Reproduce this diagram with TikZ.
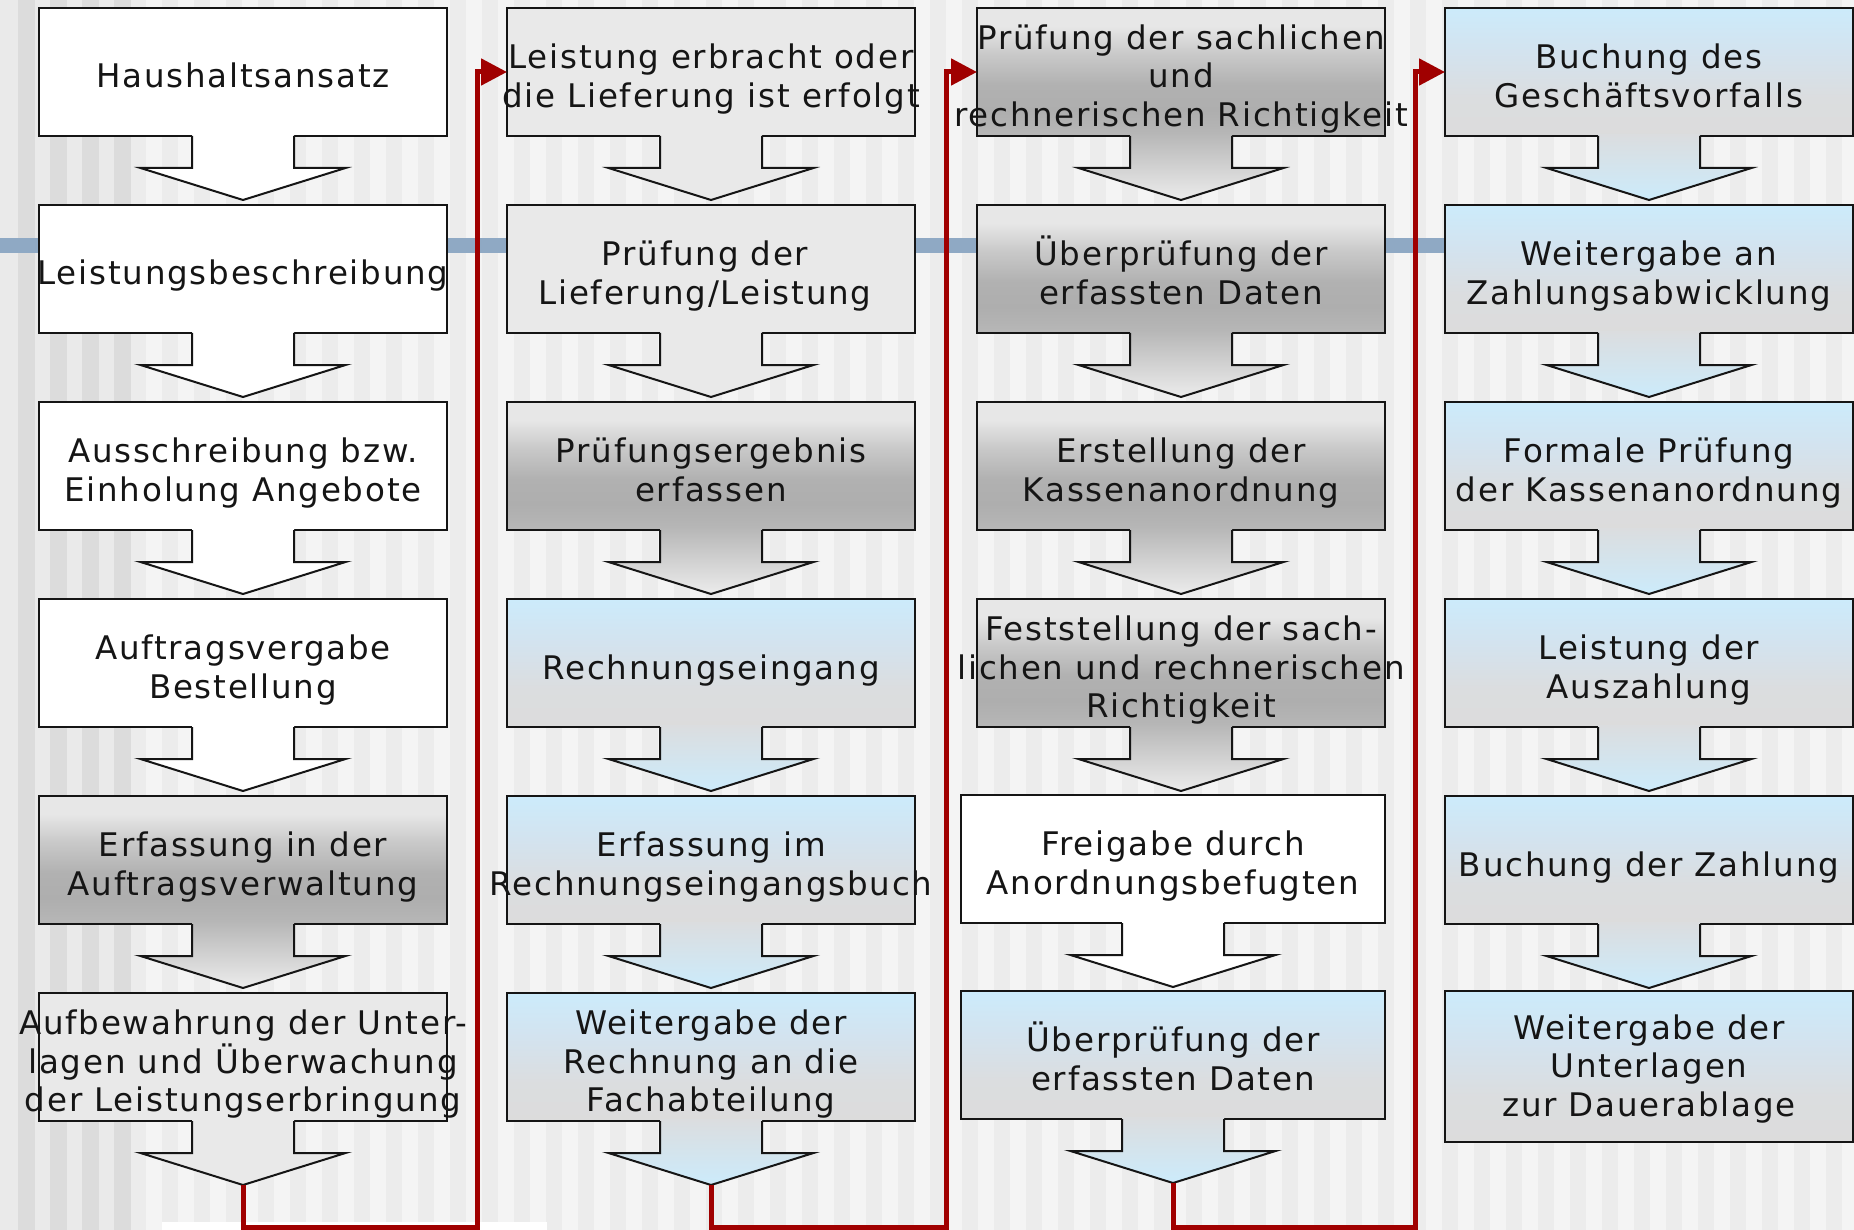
\documentclass[tikz,border=0pt]{standalone}
\usepackage{fontspec}
\setmainfont{DejaVu Sans}[LetterSpace=5.5]
\usetikzlibrary{arrows.meta}
\definecolor{redl}{HTML}{A00000}
\definecolor{barblue}{HTML}{8FA9C4}
\definecolor{lgray}{HTML}{E9E9E9}
\definecolor{txtc}{HTML}{151515}
\definecolor{bgbase}{HTML}{ECECEC}
\definecolor{bglight}{HTML}{F4F4F4}
\definecolor{bgleft}{HTML}{EAEAEA}
\definecolor{bgdark}{HTML}{DCDCDC}
\definecolor{mA}{HTML}{B7B7B7}
\definecolor{mB}{HTML}{AEAEAE}
\definecolor{mC}{HTML}{B1B1B1}
\definecolor{mD}{HTML}{C9C9C9}
\definecolor{mE}{HTML}{E7E7E7}
\definecolor{bA}{HTML}{DCDCDC}
\definecolor{bB}{HTML}{DBDDDF}
\definecolor{bC}{HTML}{D3E3EF}
\definecolor{bD}{HTML}{CCEBFB}
\pgfdeclareverticalshading{metalbox}{100bp}{color(0bp)=(mA); color(25bp)=(mA); color(35bp)=(mB); color(45bp)=(mC); color(57bp)=(mD); color(68bp)=(mE); color(75bp)=(mE); color(100bp)=(mE)}
\pgfdeclareverticalshading{bluebox}{100bp}{color(0bp)=(bA); color(25bp)=(bA); color(40bp)=(bB); color(58bp)=(bC); color(75bp)=(bD); color(100bp)=(bD)}
\newcommand\ls{\rule[-8pt]{0pt}{38pt}}
\newcommand\flowarr[2]{%
  \path[#2] ([shift={(-51,-2)}]#1.south) -- ([shift={(-51,32)}]#1.south) -- ([shift={(-102.5,32)}]#1.south) -- ([shift={(0,64)}]#1.south) -- ([shift={(102.5,32)}]#1.south) -- ([shift={(51,32)}]#1.south) -- ([shift={(51,-2)}]#1.south) -- cycle;
  \draw[arrline] ([shift={(-51,0)}]#1.south) -- ([shift={(-51,32)}]#1.south) -- ([shift={(-102.5,32)}]#1.south) -- ([shift={(0,64)}]#1.south) -- ([shift={(102.5,32)}]#1.south) -- ([shift={(51,32)}]#1.south) -- ([shift={(51,0)}]#1.south);
}
\tikzset{
  box/.style={draw=txtc, line width=2pt, inner sep=0pt, outer sep=0pt, minimum width=408pt, minimum height=128pt},
  wbox/.style={box, fill=white},
  gbox/.style={box, fill=lgray},
  mbox/.style={box, shade, shading=metalbox},
  bbox/.style={box, shade, shading=bluebox},
  warr/.style={fill=white},
  garr/.style={fill=lgray},
  marr/.style={top color=mA, bottom color=mE!80!white},
  barr/.style={top color=bB, bottom color=bD},
  arrline/.style={draw=txtc, line width=2pt, line join=miter},
  txt/.style={align=center, inner sep=0pt, text=txtc, font=\fontsize{32.5}{38.5}\selectfont},
  redline/.style={draw=redl, line width=5pt, line join=miter, -{Triangle[length=26pt,width=26pt]}},
}
\begin{document}
\begin{tikzpicture}[x=1pt,y=-1pt]
\useasboundingbox (0,0) rectangle (1854,1230);
% background
\fill[bgbase] (0,0) rectangle (1854,1230);
\fill[bgleft] (0,0) rectangle (130,1230);
\foreach \x in {18,50,82,114} \fill[bgdark] (\x,0) rectangle (\x+17,1230);
\foreach \x in {146,178,...,1850} \fill[bglight] (\x,0) rectangle (\x+16,1230);
\fill[barblue] (0,238) rectangle (1854,253);
% boxes column 1
\node[wbox] (b11) at (243,72) {};
\node[wbox] (b12) at (243,269) {};
\node[wbox] (b13) at (243,466) {};
\node[wbox] (b14) at (243,663) {};
\node[mbox] (b15) at (243,860) {};
\node[gbox] (b16) at (243,1057) {};
% column 2
\node[gbox] (b21) at (711,72) {};
\node[gbox] (b22) at (711,269) {};
\node[mbox] (b23) at (711,466) {};
\node[bbox] (b24) at (711,663) {};
\node[bbox] (b25) at (711,860) {};
\node[bbox] (b26) at (711,1057) {};
% column 3
\node[mbox] (b31) at (1181,72) {};
\node[mbox] (b32) at (1181,269) {};
\node[mbox] (b33) at (1181,466) {};
\node[mbox] (b34) at (1181,663) {};
\node[wbox, minimum width=424pt] (b35) at (1173,859) {};
\node[bbox, minimum width=424pt] (b36) at (1173,1055) {};
% column 4
\node[bbox] (b41) at (1649,72) {};
\node[bbox] (b42) at (1649,269) {};
\node[bbox] (b43) at (1649,466) {};
\node[bbox] (b44) at (1649,663) {};
\node[bbox] (b45) at (1649,860) {};
\node[bbox, minimum height=151pt] (b46) at (1649,1066.5) {};
% flow arrows
\flowarr{b11}{warr}\flowarr{b12}{warr}\flowarr{b13}{warr}\flowarr{b14}{warr}\flowarr{b15}{marr}\flowarr{b16}{garr}
\flowarr{b21}{garr}\flowarr{b22}{garr}\flowarr{b23}{marr}\flowarr{b24}{barr}\flowarr{b25}{barr}\flowarr{b26}{barr}
\flowarr{b31}{marr}\flowarr{b32}{marr}\flowarr{b33}{marr}\flowarr{b34}{marr}\flowarr{b35}{warr}\flowarr{b36}{barr}
\flowarr{b41}{barr}\flowarr{b42}{barr}\flowarr{b43}{barr}\flowarr{b44}{barr}\flowarr{b45}{barr}
% bottom white strip
\fill[white] (162,1222) rectangle (547,1230);
% red connectors
\coordinate (tip16) at ([yshift=-64pt]b16.south);
\coordinate (tip26) at ([yshift=-64pt]b26.south);
\coordinate (tip36) at ([yshift=-64pt]b36.south);
\coordinate (c1) at (477,1227);
\coordinate (c2) at (946,1227);
\coordinate (c3) at (1415,1227);
\draw[redline] (tip16) |- (c1) |- (b21.west);
\draw[redline] (tip26) |- (c2) |- (b31.west);
\draw[redline] (tip36) |- (c3) |- (b41.west);
% texts
\node[txt] (t11) at ([yshift=-5pt]b11.center) {\ls Haushaltsansatz};
\node[txt] (t12) at ([yshift=-5pt]b12.center) {\ls Leistungsbeschreibung};
\node[txt] (t13) at ([yshift=-5pt]b13.center) {\ls Ausschreibung bzw.\\\ls Einholung Angebote};
\node[txt] (t14) at ([yshift=-5pt]b14.center) {\ls Auftragsvergabe\\\ls Bestellung};
\node[txt] (t15) at ([yshift=-5pt]b15.center) {\ls Erfassung in der\\\ls Auftragsverwaltung};
\node[txt] (t16) at ([yshift=-5pt]b16.center) {\ls Aufbewahrung der Unter-\\\ls lagen und Überwachung\\\ls der Leistungserbringung};
\node[txt] (t21) at ([yshift=-5pt]b21.center) {\ls Leistung erbracht oder\\\ls die Lieferung ist erfolgt};
\node[txt] (t22) at ([shift={(-6pt,-5pt)}]b22.center) {\ls Prüfung der\\\ls Lieferung/Leistung};
\node[txt] (t23) at ([yshift=-5pt]b23.center) {\ls Prüfungsergebnis\\\ls erfassen};
\node[txt] (t24) at ([yshift=-5pt]b24.center) {\ls Rechnungseingang};
\node[txt] (t25) at ([yshift=-5pt]b25.center) {\ls Erfassung im\\\ls Rechnungseingangsbuch};
\node[txt] (t26) at ([yshift=-5pt]b26.center) {\ls Weitergabe der\\\ls Rechnung an die\\\ls Fachabteilung};
\node[txt] (t31) at ([yshift=-5pt]b31.center) {\ls Prüfung der sachlichen\\\ls und\\\ls rechnerischen Richtigkeit};
\node[txt] (t32) at ([yshift=-5pt]b32.center) {\ls Überprüfung der\\\ls erfassten Daten};
\node[txt] (t33) at ([yshift=-5pt]b33.center) {\ls Erstellung der\\\ls Kassenanordnung};
\node[txt] (t34) at ([yshift=-5pt]b34.center) {\ls Feststellung der sach-\\\ls lichen und rechnerischen\\\ls Richtigkeit};
\node[txt] (t35) at ([yshift=-5pt]b35.center) {\ls Freigabe durch\\\ls Anordnungsbefugten};
\node[txt] (t36) at ([yshift=-5pt]b36.center) {\ls Überprüfung der\\\ls erfassten Daten};
\node[txt] (t41) at ([yshift=-5pt]b41.center) {\ls Buchung des\\\ls Geschäftsvorfalls};
\node[txt] (t42) at ([yshift=-5pt]b42.center) {\ls Weitergabe an\\\ls Zahlungsabwicklung};
\node[txt] (t43) at ([yshift=-5pt]b43.center) {\ls Formale Prüfung\\\ls der Kassenanordnung};
\node[txt] (t44) at ([yshift=-5pt]b44.center) {\ls Leistung der\\\ls Auszahlung};
\node[txt] (t45) at ([yshift=-5pt]b45.center) {\ls Buchung der Zahlung};
\node[txt] (t46) at (b46.center) {\ls Weitergabe der\\\ls Unterlagen\\\ls zur Dauerablage};
\end{tikzpicture}
\end{document}
